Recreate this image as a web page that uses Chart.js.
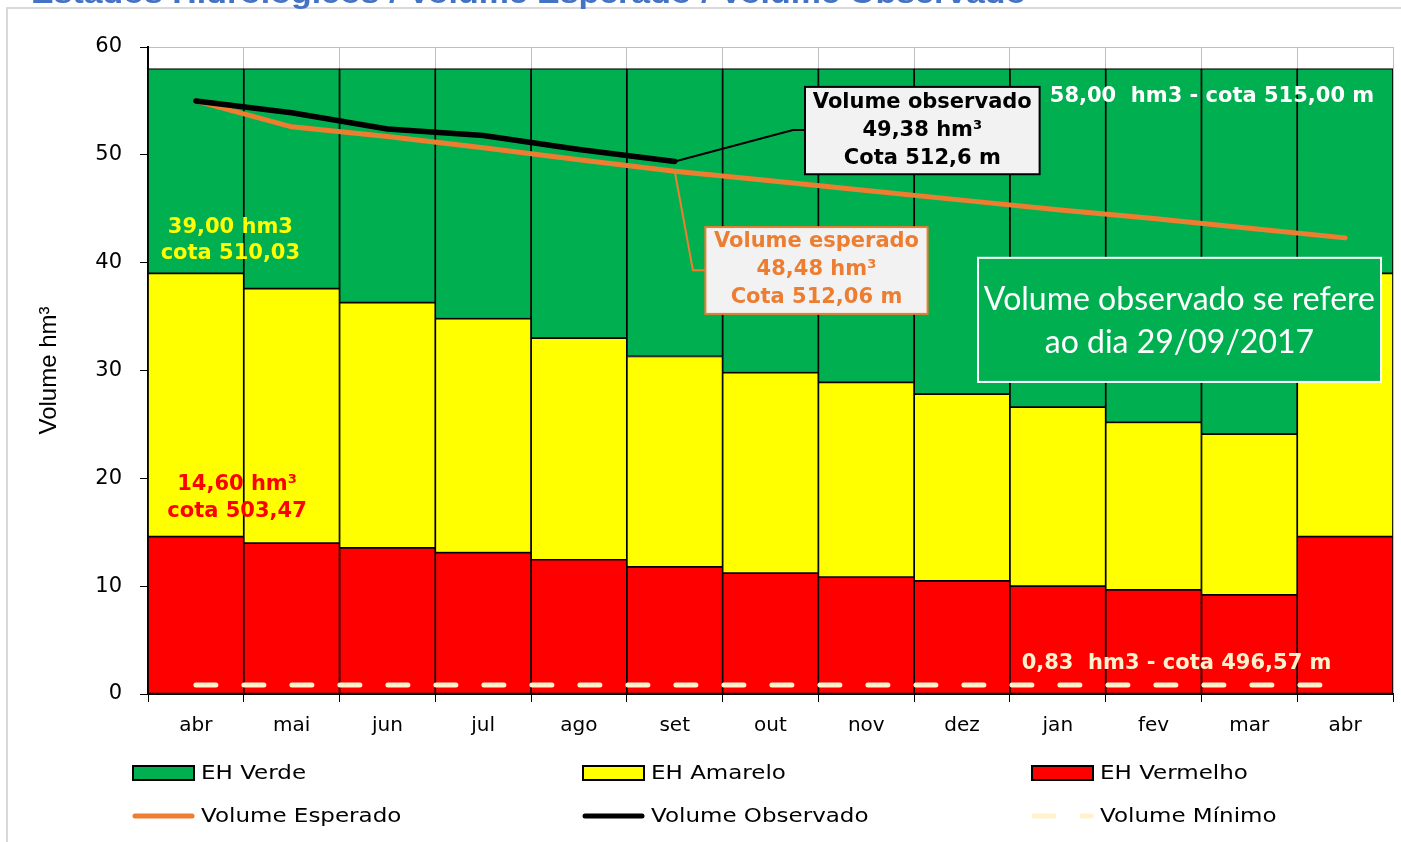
<!DOCTYPE html>
<html>
<head>
<meta charset="utf-8">
<script src="https://cdn.jsdelivr.net/npm/chart.js@4.4.1/dist/chart.umd.min.js"></script>
<style>
  html, body { margin: 0; padding: 0; background: #fff; }
  #wrap { position: relative; width: 1401px; height: 842px; }
</style>
</head>
<body>
<div id="wrap"><canvas id="grafico"></canvas></div>
<script>
// Dados (hm3)
const meses = ['abr', 'mai', 'jun', 'jul', 'ago', 'set', 'out', 'nov', 'dez', 'jan', 'fev', 'mar', 'abr'];
const limiteVermelho = [14.6, 14.0, 13.55, 13.1, 12.45, 11.8, 11.2, 10.85, 10.5, 10.0, 9.65, 9.2, 14.6];
const limiteAmarelo = [39.0, 37.6, 36.3, 34.8, 33.0, 31.3, 29.8, 28.9, 27.8, 26.6, 25.2, 24.1, 39.0];
const limiteVerde = [58, 58, 58, 58, 58, 58, 58, 58, 58, 58, 58, 58, 58];
const volumeEsperado = [55.0, 52.6, 51.7, 50.65, 49.55, 48.48, 47.6, 46.7, 45.8, 44.9, 44.1, 43.2, 42.3];
const volumeObservado = [55.0, 53.9, 52.4, 51.8, 50.5, 49.38, null, null, null, null, null, null, null];
const volumeMinimo = [0.83, 0.83, 0.83, 0.83, 0.83, 0.83, 0.83, 0.83, 0.83, 0.83, 0.83, 0.83, 0.83];
const yTicks = [0, 10, 20, 30, 40, 50, 60];

const titulo = 'Estados Hidrológicos / Volume Esperado / Volume Observado';

const VERDE = '#00b050', AMARELO = '#ffff00', VERMELHO = '#ff0000', LARANJA = '#ed7d31', CREME = '#fff2cc';

// texto esticado na horizontal (fonte original é mais larga)
function textoLargo(ctx, txt, x, y, sx) {
    ctx.save();
    ctx.translate(x, y);
    ctx.scale(sx, 1);
    ctx.fillText(txt, 0, 0);
    ctx.restore();
}

function caixa(ctx, x0, y0, x1, y1, fundo, borda) {
    ctx.fillStyle = fundo;
    ctx.fillRect(x0, y0, x1 - x0, y1 - y0);
    ctx.strokeStyle = borda;
    ctx.lineWidth = 2;
    ctx.strokeRect(x0, y0, x1 - x0, y1 - y0);
}

const anotacoes = {
    id: 'anotacoes',
    beforeDraw(chart) {
        const ctx = chart.ctx;
        ctx.save();
        // moldura cinza
        ctx.strokeStyle = '#d9d9d9';
        ctx.lineWidth = 2;
        ctx.beginPath();
        ctx.moveTo(7, chart.height);
        ctx.lineTo(7, 8);
        ctx.lineTo(chart.width, 8);
        ctx.stroke();
        // titulo (cortado no topo)
        ctx.fillStyle = '#4472c4';
        ctx.font = 'bold 30px "Liberation Sans"';
        ctx.textBaseline = 'alphabetic';
        ctx.textAlign = 'left';
        textoLargo(ctx, titulo, 31, 3, 1.13);
        ctx.restore();
    },
    afterDatasetsDraw(chart) {
        const ctx = chart.ctx;
        const X = chart.scales.x, Y = chart.scales.y;
        const px = v => X.getPixelForValue(v);
        const py = v => Y.getPixelForValue(v);
        ctx.save();
        ctx.textAlign = 'center';
        ctx.textBaseline = 'middle';
        ctx.font = 'bold 21px "DejaVu Sans"';

        ctx.fillStyle = AMARELO;
        ctx.fillText('39,00 hm3', px(0.36), py(43.3));
        ctx.fillText('cota 510,03', px(0.36), py(40.8));
        ctx.fillStyle = VERMELHO;
        ctx.fillText('14,60 hm³', px(0.43), py(19.4));
        ctx.fillText('cota 503,47', px(0.43), py(16.9));
        ctx.fillStyle = '#ffffff';
        ctx.fillText('58,00  hm3 - cota 515,00 m', px(10.61), py(55.4));
        ctx.fillStyle = CREME;
        ctx.fillText('0,83  hm3 - cota 496,57 m', px(10.24), py(2.8));

        // chamada volume observado
        ctx.strokeStyle = '#000';
        ctx.lineWidth = 2;
        ctx.beginPath();
        ctx.moveTo(px(5), py(volumeObservado[5]));
        ctx.lineTo(px(6.235), py(52.3));
        ctx.lineTo(px(6.36), py(52.3));
        ctx.stroke();
        caixa(ctx, px(6.36), py(56.3), px(8.81), py(48.2), '#f2f2f2', '#000');
        ctx.fillStyle = '#000';
        ctx.fillText('Volume observado', px(7.585), py(54.82));
        ctx.fillText('49,38 hm³', px(7.585), py(52.23));
        ctx.fillText('Cota 512,6 m', px(7.585), py(49.63));

        // chamada volume esperado
        ctx.strokeStyle = LARANJA;
        ctx.beginPath();
        ctx.moveTo(px(5), py(volumeEsperado[5]));
        ctx.lineTo(px(5.19), py(39.3));
        ctx.lineTo(px(5.32), py(39.3));
        ctx.stroke();
        caixa(ctx, px(5.32), py(43.3), px(7.64), py(35.25), '#f2f2f2', LARANJA);
        ctx.fillStyle = LARANJA;
        ctx.fillText('Volume esperado', px(6.48), py(41.93));
        ctx.fillText('48,48 hm³', px(6.48), py(39.33));
        ctx.fillText('Cota 512,06 m', px(6.48), py(36.73));

        // nota
        caixa(ctx, px(8.167), py(40.45), px(12.375), py(28.94), VERDE, '#ffffff');
        ctx.fillStyle = '#ffffff';
        ctx.font = '32px Lato';
        ctx.fillText('Volume observado se refere', px(10.27), py(36.55));
        ctx.fillText('ao dia 29/09/2017', px(10.27), py(32.56));
        ctx.restore();
    },
    afterDraw(chart) {
        // legenda em grade 3 x 2
        const ctx = chart.ctx;
        const cols = [133, 583, 1032], rows = [773, 816];
        ctx.save();
        ctx.font = '20px "DejaVu Sans"';
        ctx.textBaseline = 'middle';
        ctx.textAlign = 'left';
        chart.data.datasets.forEach((ds, i) => {
            const x = cols[i % 3], y = rows[Math.floor(i / 3)];
            if (ds.type === 'line') {
                ctx.strokeStyle = ds.borderColor;
                ctx.lineWidth = 5;
                ctx.lineCap = 'round';
                ctx.setLineDash(ds.borderDash || []);
                ctx.beginPath();
                ctx.moveTo(x + 2, y);
                ctx.lineTo(x + 59, y);
                ctx.stroke();
                ctx.setLineDash([]);
            } else {
                ctx.fillStyle = ds.backgroundColor;
                ctx.fillRect(x, y - 7, 61, 14);
                ctx.strokeStyle = '#000';
                ctx.lineWidth = 2;
                ctx.strokeRect(x, y - 7, 61, 14);
            }
            ctx.fillStyle = '#000';
            textoLargo(ctx, ds.label, x + 68, y + 1, 1.15);
        });
        ctx.restore();
    }
};

const barraBase = {
    type: 'bar',
    grouped: false,
    barPercentage: 1,
    categoryPercentage: 1,
    borderColor: '#000',
    borderWidth: 1.2,
    borderSkipped: false,
    order: 2
};

new Chart(document.getElementById('grafico'), {
    type: 'bar',
    data: {
        labels: meses,
        datasets: [
            Object.assign({}, barraBase, {
                label: 'EH Verde',
                data: meses.map((m, i) => [limiteAmarelo[i], limiteVerde[i]]),
                backgroundColor: VERDE
            }),
            Object.assign({}, barraBase, {
                label: 'EH Amarelo',
                data: meses.map((m, i) => [limiteVermelho[i], limiteAmarelo[i]]),
                backgroundColor: AMARELO
            }),
            Object.assign({}, barraBase, {
                label: 'EH Vermelho',
                data: meses.map((m, i) => [0, limiteVermelho[i]]),
                backgroundColor: VERMELHO
            }),
            {
                type: 'line',
                label: 'Volume Esperado',
                data: volumeEsperado,
                borderColor: LARANJA,
                borderWidth: 5,
                borderCapStyle: 'round',
                pointRadius: 0,
                tension: 0,
                order: 1
            },
            {
                type: 'line',
                label: 'Volume Observado',
                data: volumeObservado,
                borderColor: '#000',
                borderWidth: 5.5,
                borderCapStyle: 'round',
                borderJoinStyle: 'round',
                pointRadius: 0,
                tension: 0,
                spanGaps: false,
                order: 0
            },
            {
                type: 'line',
                label: 'Volume Mínimo',
                data: volumeMinimo,
                borderColor: CREME,
                borderWidth: 5,
                borderCapStyle: 'round',
                borderDash: [20, 28],
                pointRadius: 0,
                tension: 0,
                order: 1
            }
        ]
    },
    options: {
        responsive: true,
        maintainAspectRatio: false,
        animation: false,
        layout: { padding: { top: 47, right: 8, bottom: 98, left: 0 } },
        plugins: {
            legend: { display: false },
            tooltip: { enabled: false }
        },
        scales: {
            x: {
                offset: true,
                grid: { offset: true, color: '#bfbfbf', tickColor: '#000', tickLength: 8, drawOnChartArea: true },
                border: { color: '#000', width: 2 },
                ticks: { color: '#000', font: { family: 'DejaVu Sans', size: 20 }, padding: 12, maxRotation: 0 },
                afterFit(scale) { scale.height = 50; }
            },
            y: {
                min: 0,
                max: 60,
                afterBuildTicks(scale) { scale.ticks = yTicks.map(v => ({ value: v })); },
                grid: { color: '#bfbfbf', tickColor: '#000', tickLength: 8 },
                border: { color: '#000', width: 2 },
                ticks: { color: '#000', font: { family: 'DejaVu Sans', size: 21 }, padding: 18 },
                title: {
                    display: true,
                    text: 'Volume hm³',
                    color: '#000',
                    font: { family: 'Liberation Sans', size: 24 },
                    padding: { top: 35, bottom: 0 }
                },
                afterFit(scale) { scale.width = 148; }
            }
        }
    },
    plugins: [anotacoes]
});
</script>
</body>
</html>
